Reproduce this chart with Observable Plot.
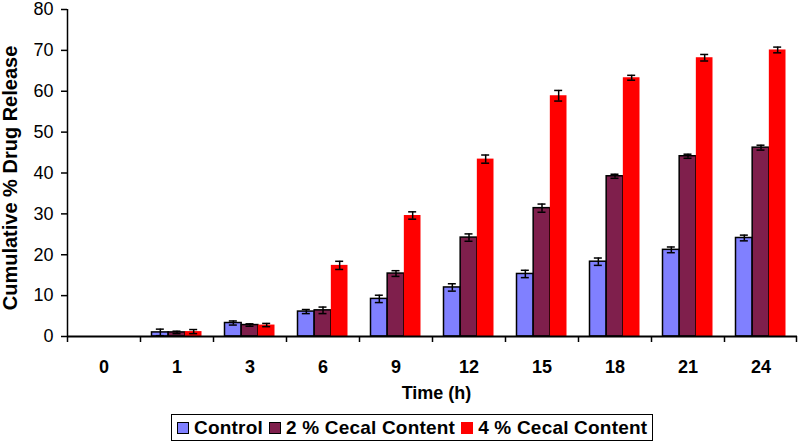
<!DOCTYPE html>
<html>
<head>
<meta charset="utf-8">
<script src="https://cdn.jsdelivr.net/npm/d3@7"></script>
<script src="https://cdn.jsdelivr.net/npm/@observablehq/plot@0.6"></script>
<style>
  html, body { margin: 0; padding: 0; background: #fff; }
  body { width: 799px; height: 443px; position: relative; overflow: hidden; font-family: "Liberation Sans", Arial, sans-serif; }
  #legend { position: absolute; left: 171px; top: 414px; width: 475px; height: 25px; border: 1.5px solid #000;
    display: flex; align-items: center; padding-left: 5px; box-sizing: content-box;
    font-weight: bold; font-size: 19px; letter-spacing: 0.2px; color: #000; white-space: nowrap; }
  #legend .item { display: flex; align-items: center; margin-right: 6px; }
  #legend .sw { width: 10px; height: 10px; border: 1.2px solid #000; display: inline-block; margin-right: 5px; }
</style>
</head>
<body>
<div id="chart"></div>
<div id="legend"></div>
<script>
const times = ["0", "1", "3", "6", "9", "12", "15", "18", "21", "24"];
const seriesNames = ["Control", "2 % Cecal Content", "4 % Cecal Content"];
const seriesColors = ["#8080ff", "#7f1f4c", "#ff0000"];
const seriesStroke = ["#000", "#000", "none"];
const control = [0, 1.0, 3.3, 6.1, 9.2, 12.0, 15.3, 18.3, 21.2, 24.1];
const cecal2 = [0, 1.0, 2.8, 6.4, 15.4, 24.2, 31.4, 39.2, 44.1, 46.2];
const cecal4 = [0, 1.2, 2.8, 17.4, 29.6, 43.4, 58.9, 63.3, 68.2, 70.1];
const errControl = [0, 0.8, 0.5, 0.5, 0.9, 0.9, 0.9, 0.9, 0.7, 0.7];
const err2 = [0, 0.3, 0.3, 0.8, 0.7, 0.9, 1.0, 0.5, 0.5, 0.6];
const err4 = [0, 0.5, 0.4, 1.0, 0.9, 1.0, 1.3, 0.6, 0.8, 0.7];
const yTicks = [0, 10, 20, 30, 40, 50, 60, 70, 80];

const values = [control, cecal2, cecal4];
const errs = [errControl, err2, err4];

const W = 799, H = 410, mL = 67, mR = 2, mT = 9, mB = 74;
const step = (W - mL - mR) / times.length;
const groupW = 50;
const barW = groupW / 3;
const padOuter = (step - groupW) / 2;
const capHalf = 4;

const marks = [];
values.forEach((vals, k) => {
  const rows = times.map((t, i) => ({time: t, value: vals[i], err: errs[k][i]}));
  const insetLeft = padOuter + k * barW;
  const insetRight = padOuter + (2 - k) * barW;
  marks.push(Plot.barY(rows.filter(d => d.value > 0), {
    x: "time", y: "value", fill: seriesColors[k], stroke: seriesStroke[k], strokeWidth: 1.5,
    insetLeft, insetRight
  }));
});
values.forEach((vals, k) => {
  const rows = times.map((t, i) => ({time: t, value: vals[i], err: errs[k][i]})).filter(d => d.value > 0);
  const center = padOuter + (k + 0.5) * barW;
  const dx = center - step / 2;
  marks.push(Plot.ruleX(rows, {x: "time", y1: d => d.value - d.err, y2: d => d.value + d.err, dx, stroke: "#000", strokeWidth: 1.5}));
  marks.push(Plot.tickY(rows, {x: "time", y: d => d.value + d.err, insetLeft: center - capHalf, insetRight: step - center - capHalf, stroke: "#000", strokeWidth: 1.5}));
  marks.push(Plot.tickY(rows, {x: "time", y: d => d.value - d.err, insetLeft: center - capHalf, insetRight: step - center - capHalf, stroke: "#000", strokeWidth: 1.5}));
});

const chart = Plot.plot({
  width: W, height: H,
  marginLeft: mL, marginRight: mR, marginTop: mT, marginBottom: mB,
  style: {fontFamily: "'Liberation Sans', Arial, sans-serif", background: "#fff", color: "#000", overflow: "visible"},
  x: {type: "band", domain: times, padding: 0},
  y: {domain: [0, 80]},
  marks: [
    ...marks,
    // y axis
    Plot.axisY({ticks: yTicks, tickSize: 6, tickPadding: 8, fontSize: 18, label: null, strokeWidth: 1.5}),
    Plot.ruleX([0], {x: () => times[0], dx: -step / 2, y1: 0, y2: 80, stroke: "#000", strokeWidth: 1.5}),
    // x axis line
    Plot.ruleY([0], {stroke: "#000", strokeWidth: 2}),
    // x boundary ticks
    Plot.axisX({tickSize: 6, dx: -step / 2, text: null, label: null, strokeWidth: 1.5}),
    Plot.ruleX([times[times.length - 1]], {x: d => d, dx: step / 2 - 1, y: 0, insetBottom: -6, stroke: "#000", strokeWidth: 1.5}),
    // x labels
    Plot.axisX({tickSize: 0, tickPadding: 24, fontSize: 18, fontWeight: "bold", label: null}),
    // axis titles
    Plot.text(["Time (h)"], {frameAnchor: "bottom", dy: 57, dx: 4, lineAnchor: "middle", fontSize: 18, fontWeight: "bold", text: d => d}),
    Plot.text(["Cumulative % Drug Release"], {frameAnchor: "left", dx: -57, dy: 5, rotate: -90, textAnchor: "middle", lineAnchor: "middle", fontSize: 20, fontWeight: "bold", text: d => d})
  ]
});
document.getElementById("chart").appendChild(chart);

const legend = document.getElementById("legend");
seriesNames.forEach((name, k) => {
  const item = document.createElement("span");
  item.className = "item";
  const sw = document.createElement("span");
  sw.className = "sw";
  sw.style.background = seriesColors[k];
  if (seriesStroke[k] === "none") sw.style.borderColor = seriesColors[k];
  item.appendChild(sw);
  const label = document.createElement("span");
  label.textContent = name;
  item.appendChild(label);
  legend.appendChild(item);
});
</script>
</body>
</html>
